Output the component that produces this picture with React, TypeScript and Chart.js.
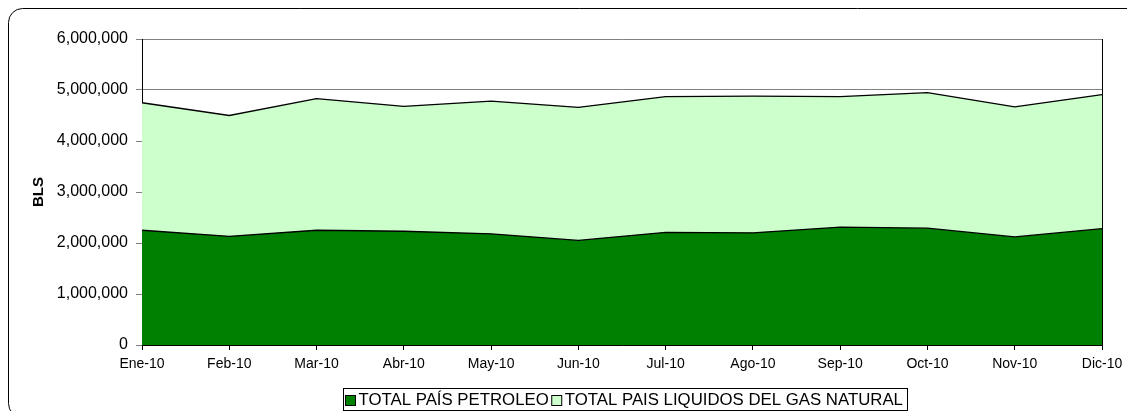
import React, { useEffect, useRef } from "react";
import { Chart, registerables } from "chart.js";

Chart.register(...registerables);

const FONT = '"Liberation Sans", Arial, sans-serif';

const categories = ["Ene-10", "Feb-10", "Mar-10", "Abr-10", "May-10", "Jun-10", "Jul-10", "Ago-10", "Sep-10", "Oct-10", "Nov-10", "Dic-10"];
const petroleo = [2250000, 2130000, 2250000, 2230000, 2180000, 2050000, 2210000, 2200000, 2310000, 2290000, 2120000, 2280000];
const gasNatural = [2500000, 2370000, 2580000, 2450000, 2600000, 2610000, 2660000, 2680000, 2560000, 2660000, 2550000, 2630000];
const seriesNames = ["TOTAL PAÍS PETROLEO", "TOTAL PAIS LIQUIDOS DEL GAS NATURAL"];
const seriesColors = ["#008000", "#CCFFCC"];
const yTicks = [0, 1000000, 2000000, 3000000, 4000000, 5000000, 6000000];
const yTitle = "BLS";

const fmt = (v: number) => v.toLocaleString("en-US");

const decorPlugin = {
  id: "decor",
  afterDraw(chart: any) {
    const ctx = chart.ctx;
    const area = chart.chartArea;
    ctx.save();
    // plot right border
    ctx.strokeStyle = "#000";
    ctx.lineWidth = 1;
    ctx.beginPath();
    ctx.moveTo(Math.round(area.right) + 0.5, area.top);
    ctx.lineTo(Math.round(area.right) + 0.5, area.bottom);
    ctx.stroke();
    // outer rounded frame
    ctx.beginPath();
    ctx.roundRect(8.5, 8.5, 1145, 409, 14);
    ctx.stroke();
    // legend
    ctx.font = "16.8px " + FONT;
    ctx.textBaseline = "middle";
    ctx.textAlign = "left";
    const w1 = ctx.measureText(seriesNames[0]).width;
    const w2 = ctx.measureText(seriesNames[1]).width;
    const padL = 2, sq = 10, gapT = 3, gapItem = 3, padR = 5;
    const total = padL + sq + gapT + w1 + gapItem + sq + gapT + w2 + padR;
    const cx = (area.left + area.right) / 2 + 3.5;
    const bx = Math.round(cx - total / 2) + 0.5;
    const by = 388.5, bh = 22;
    ctx.strokeStyle = "#000";
    ctx.strokeRect(bx, by, Math.round(total), bh);
    let x = bx + padL;
    const sy = 395.5;
    const widths = [w1, w2];
    for (let i = 0; i < 2; i++) {
      ctx.fillStyle = seriesColors[i];
      ctx.fillRect(x, sy, sq, sq);
      ctx.strokeStyle = "#000";
      ctx.strokeRect(x, sy, sq, sq);
      x += sq + gapT;
      ctx.fillStyle = "#000";
      ctx.fillText(seriesNames[i], x, 400.5);
      x += widths[i] + gapItem;
    }
    ctx.restore();
  },
};

export default function App() {
  const ref = useRef<HTMLCanvasElement | null>(null);
  useEffect(() => {
    if (!ref.current) return;
    Chart.defaults.font.family = FONT;
    const chart = new Chart(ref.current, {
      type: "line",
      data: {
        labels: categories,
        datasets: [
          {
            label: seriesNames[0],
            data: petroleo,
            backgroundColor: seriesColors[0],
            borderColor: "#000",
            borderWidth: 1.3,
            pointRadius: 0,
            tension: 0,
            fill: "origin",
          },
          {
            label: seriesNames[1],
            data: gasNatural,
            backgroundColor: seriesColors[1],
            borderColor: "#000",
            borderWidth: 1.3,
            pointRadius: 0,
            tension: 0,
            fill: "-1",
          },
        ],
      },
      options: {
        animation: false,
        responsive: false,
        layout: { padding: { left: 0, top: 39, right: 33, bottom: 44 } },
        plugins: {
          legend: { display: false },
          tooltip: { enabled: false },
        },
        scales: {
          x: {
            offset: false,
            grid: { drawOnChartArea: false, drawTicks: true, tickLength: 5, color: "#000" },
            border: { color: "#000", width: 1 },
            ticks: { font: { size: 14, family: FONT }, color: "#000", padding: 6, maxRotation: 0, autoSkip: false },
            afterFit(s: any) { s.height = 30; },
          },
          y: {
            stacked: true,
            min: 0,
            max: 6000000,
            afterBuildTicks(s: any) { s.ticks = yTicks.map((v) => ({ value: v })); },
            ticks: { font: { size: 16, family: FONT }, color: "#000", padding: 8, callback: (v: any) => fmt(Number(v)) },
            grid: { color: "#808080", tickLength: 6, lineWidth: 1 },
            border: { color: "#000", width: 1 },
            title: { display: true, text: yTitle, font: { size: 15, weight: "bold", family: FONT }, color: "#000", padding: { top: 30, bottom: 0 } },
            afterFit(s: any) { s.width = 142; },
          },
        },
      },
      plugins: [decorPlugin],
    });
    return () => chart.destroy();
  }, []);
  return (
    <div style={{ position: "relative", width: 1119, height: 403 }}>
      <canvas ref={ref} width={1135} height={419} style={{ position: "absolute", left: -8, top: -8, width: 1135, height: 419 }} />
    </div>
  );
}
